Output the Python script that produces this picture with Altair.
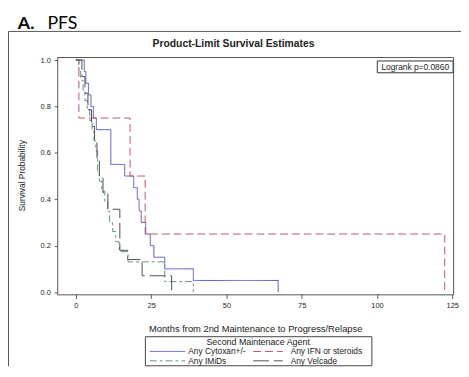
import altair as alt
import pandas as pd

groups = ["Any Cytoxan+/-", "Any IFN or steroids", "Any IMiDs", "Any Velcade"]
colors = ["#5454c4", "#c0566c", "#5c9484", "#4e4e4e"]
dashes = [[1, 0], [8, 4], [7, 3, 3, 3], [16, 5]]

cytoxan_t = [0, 2.8, 3.3, 4.2, 5.0, 5.8, 6.8, 11.6, 16.2, 19.2, 20.4, 21.0, 21.7, 23.2, 24.7, 25.9, 29.5, 39.0, 67.2]
cytoxan_s = [1.0, 0.95, 0.90, 0.85, 0.80, 0.75, 0.70, 0.55, 0.50, 0.45, 0.40, 0.35, 0.30, 0.25, 0.20, 0.15, 0.10, 0.05, 0.0]

ifn_t = [0, 1.0, 18.0, 23.0, 122.5]
ifn_s = [1.0, 0.75, 0.50, 0.25, 0.0]

imids_t = [0, 1.0, 1.6, 2.4, 3.0, 3.8, 4.6, 5.4, 6.0, 6.6, 7.2, 7.8, 8.6, 9.6, 10.6, 11.2, 12.2, 13.2, 14.4, 17.3, 29.5, 39.0]
imids_s = [1.0, 0.957, 0.913, 0.87, 0.826, 0.783, 0.739, 0.696, 0.652, 0.609, 0.522, 0.478, 0.435, 0.391, 0.348, 0.304, 0.261, 0.217, 0.174, 0.13, 0.045, 0.0]

velcade_t = [0, 2.0, 3.0, 4.0, 5.2, 6.2, 7.0, 7.8, 9.0, 10.6, 14.6, 17.2, 22.0, 31.8]
velcade_s = [1.0, 0.929, 0.857, 0.786, 0.714, 0.643, 0.571, 0.50, 0.429, 0.357, 0.18, 0.14, 0.07, 0.0]

x_ticks = [0, 25, 50, 75, 100, 125]
y_ticks = [0.0, 0.2, 0.4, 0.6, 0.8, 1.0]

frames = []
for g, t, s in zip(groups, [cytoxan_t, ifn_t, imids_t, velcade_t], [cytoxan_s, ifn_s, imids_s, velcade_s]):
    frames.append(pd.DataFrame({"t": t, "s": s, "grp": g, "idx": list(range(len(t)))}))
df = pd.concat(frames, ignore_index=True)

FONT = "Liberation Sans"
W, H = 402, 241

x_scale = alt.Scale(domain=[-6.2, 125.3], nice=False, zero=False)
y_scale = alt.Scale(domain=[-0.01, 1.013], nice=False, zero=False)

lines = alt.Chart(df).mark_line(interpolate="step-after", strokeWidth=1, clip=True).encode(
    x=alt.X("t:Q", scale=x_scale, axis=alt.Axis(
        values=x_ticks, title="Months from 2nd Maintenance to Progress/Relapse",
        titleFont=FONT, titleFontSize=9.5, titleFontWeight="normal", titleColor="#222",
        titleBaseline="middle", titleY=35,
        labelFont=FONT, labelFontSize=7.5, labelColor="#222", labelPadding=3,
        tickSize=4, tickColor="#555", domain=False, grid=False, labelFlush=False)),
    y=alt.Y("s:Q", scale=y_scale, axis=alt.Axis(
        values=y_ticks, format=".1f", title="Survival Probability",
        titleFont=FONT, titleFontSize=8.5, titleFontWeight="normal", titleColor="#222",
        titleX=-36, titleY=120, titleAngle=270, titleBaseline="middle", titleAlign="center",
        labelFont=FONT, labelFontSize=7.5, labelColor="#222", labelPadding=4,
        tickSize=3, tickColor="#555", domain=False, grid=False, labelFlush=False)),
    color=alt.Color("grp:N", scale=alt.Scale(domain=groups, range=colors), legend=None),
    strokeDash=alt.StrokeDash("grp:N", scale=alt.Scale(domain=groups, range=dashes), legend=None),
    order="idx:Q",
)

one = pd.DataFrame({"a": [0]})

def txt(label, x, y, size, weight="normal", font=FONT, align="center", baseline="middle", color="#222"):
    return alt.Chart(one).mark_text(
        text=label, fontSize=size, fontWeight=weight, font=font, align=align,
        baseline=baseline, color=color,
    ).encode(x=alt.value(x), y=alt.value(y))

box = alt.Chart(one).mark_rect(fill="white", stroke="#333", strokeWidth=1).encode(
    x=alt.value(325), x2=alt.value(402), y=alt.value(4), y2=alt.value(16))

outer_top = alt.Chart(one).mark_rule(color="#555", strokeWidth=1).encode(
    x=alt.value(-49.5), x2=alt.value(410), y=alt.value(-26))
outer_left = alt.Chart(one).mark_rule(color="#555", strokeWidth=1).encode(
    x=alt.value(-49.5), y=alt.value(-26), y2=alt.value(314))

# manual legend (two columns, row-major like the SAS legend)
leg_box = alt.Chart(one).mark_rect(fill="white", stroke="#444", strokeWidth=1).encode(
    x=alt.value(89.5), x2=alt.value(319.5), y=alt.value(284), y2=alt.value(313.5))
sym_x0 = [94, 199]
sym_x1 = [130, 229]
lab_x = [133, 237]
row_y = [299, 308.5]
legend_layers = [leg_box, txt("Second Maintenace Agent", 204, 289.5, 9)]
for i, g in enumerate(groups):
    c, r = i % 2, i // 2
    legend_layers.append(
        alt.Chart(one).mark_rule(color=colors[i], strokeDash=dashes[i], strokeWidth=1).encode(
            x=alt.value(sym_x0[c]), x2=alt.value(sym_x1[c]), y=alt.value(row_y[r])))
    legend_layers.append(txt(g, lab_x[c], row_y[r], 8.5, align="left"))

chart = alt.layer(
    outer_top, outer_left, lines, box,
    txt("Logrank p=0.0860", 363.5, 10.5, 8.5),
    txt("A.", -40, -28, 18, weight="bold", font="Lato", align="left", baseline="alphabetic", color="#000"),
    txt("PFS", -10, -28, 18, font="Lato", align="left", baseline="alphabetic", color="#000"),
    txt("Product-Limit Survival Estimates", 179, -13, 10.5, weight="bold"),
    *legend_layers,
).properties(
    width=W, height=H,
    padding={"left": 50, "top": 47, "right": 8, "bottom": 73},
    autosize=alt.AutoSizeParams(type="none"),
).configure_view(stroke="#555", strokeWidth=1)

chart.save("out.html", embed_options={"renderer": "svg", "actions": False})
